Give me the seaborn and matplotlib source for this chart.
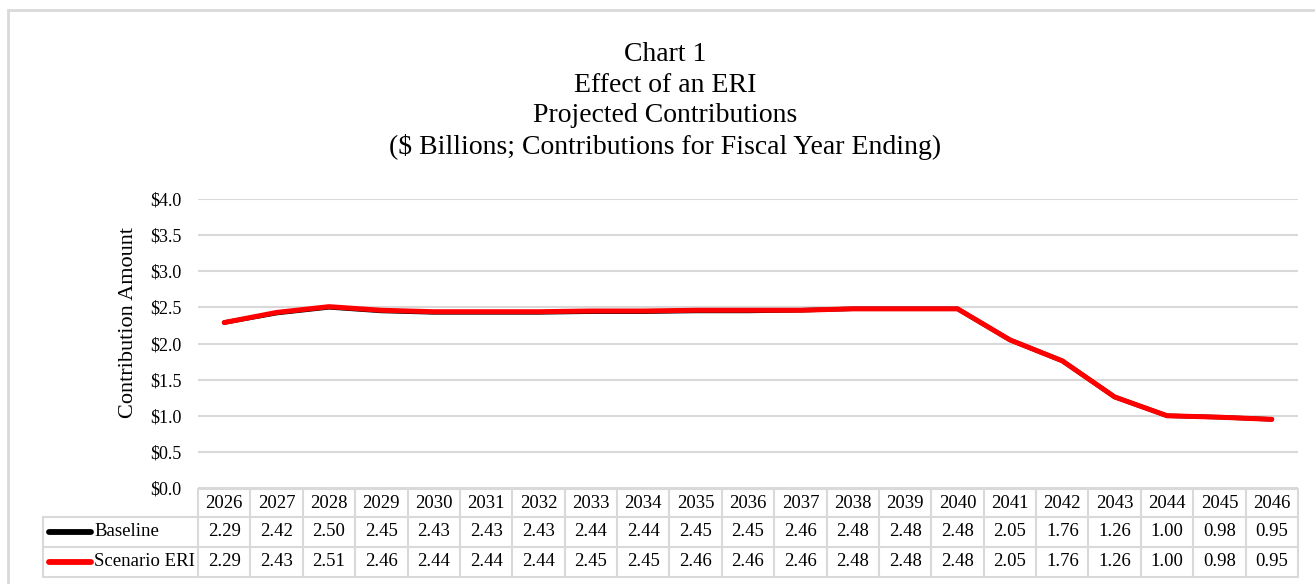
import matplotlib
matplotlib.use("Agg")
import matplotlib.pyplot as plt
import matplotlib.transforms as mtransforms
from matplotlib.lines import Line2D
from matplotlib.patches import Rectangle
import pandas as pd
import seaborn as sns

# ---- data -------------------------------------------------------------
years = [2026, 2027, 2028, 2029, 2030, 2031, 2032, 2033, 2034, 2035, 2036,
         2037, 2038, 2039, 2040, 2041, 2042, 2043, 2044, 2045, 2046]
baseline = [2.29, 2.42, 2.50, 2.45, 2.43, 2.43, 2.43, 2.44, 2.44, 2.45, 2.45,
            2.46, 2.48, 2.48, 2.48, 2.05, 1.76, 1.26, 1.00, 0.98, 0.95]
scenario = [2.29, 2.43, 2.51, 2.46, 2.44, 2.44, 2.44, 2.45, 2.45, 2.46, 2.46,
            2.46, 2.48, 2.48, 2.48, 2.05, 1.76, 1.26, 1.00, 0.98, 0.95]
series_names = ["Baseline", "Scenario ERI"]
series_colors = ["black", "red"]
y_ticks = [0.0, 0.5, 1.0, 1.5, 2.0, 2.5, 3.0, 3.5, 4.0]
title_lines = ["Chart 1", "Effect of an ERI", "Projected Contributions",
               "($ Billions; Contributions for Fiscal Year Ending)"]

W, H = 1315, 584
GRID = "#d9d9d9"

sns.set_theme(style="white")
plt.rcParams["font.family"] = ["Liberation Serif", "DejaVu Serif"]
plt.rcParams["text.color"] = "black"
plt.rcParams["axes.labelcolor"] = "black"

fig = plt.figure(figsize=(W / 100, H / 100), dpi=100)
ax = fig.add_axes([198 / W, (H - 488) / H, 1100 / W, (488 - 199) / H])

pos = list(range(len(years)))
df = pd.DataFrame({
    "pos": pos * 2,
    "value": baseline + scenario,
    "series": [series_names[0]] * len(pos) + [series_names[1]] * len(pos),
})

sns.lineplot(data=df[df.series == series_names[0]], x="pos", y="value",
             color=series_colors[0], linewidth=3.2, ax=ax, legend=False)
sns.lineplot(data=df[df.series == series_names[1]], x="pos", y="value",
             color=series_colors[1], linewidth=3.6, ax=ax, legend=False)

ax.set_xlim(-0.5, len(years) - 0.5)
ax.set_ylim(0, 4.0)
ax.set_yticks(y_ticks)
ax.set_yticklabels([f"${v:.1f}" for v in y_ticks], fontsize=13)
ax.set_xticks([])
ax.set_xlabel("")
ax.set_ylabel("Contribution Amount", fontsize=16)
ax.yaxis.set_label_coords(-0.0545, 0.571)
ax.tick_params(axis="y", length=0, pad=12, colors="black")
ax.grid(axis="y", color=GRID, linewidth=1.5)
ax.set_axisbelow(True)
for s in ax.spines.values():
    s.set_visible(False)

# ---- data table below the plot -----------------------------------------
def fy(ypx):
    return 1 - ypx / H

def fx(xpx):
    return xpx / W

col_tr = mtransforms.blended_transform_factory(ax.transData, fig.transFigure)
fig_tr = fig.transFigure

row_top, row_head, row_mid, row_bot = 489, 517, 547, 577
label_left = 43
n = len(years)

# horizontal rules across the year columns
for y in (row_top, row_head, row_mid, row_bot):
    ax.add_line(Line2D([-0.5, n - 0.5], [fy(y), fy(y)], transform=col_tr,
                       color=GRID, lw=1.5, clip_on=False))
# horizontal rules across the label column
for y in (row_head, row_mid, row_bot):
    ax.add_line(Line2D([fx(label_left), fx(198)], [fy(y), fy(y)], transform=fig_tr,
                       color=GRID, lw=1.5, clip_on=False))
# vertical rules
for k in range(n + 1):
    ax.add_line(Line2D([k - 0.5, k - 0.5], [fy(row_top), fy(row_bot)], transform=col_tr,
                       color=GRID, lw=1.5, clip_on=False))
ax.add_line(Line2D([fx(label_left)] * 2, [fy(row_head), fy(row_bot)], transform=fig_tr,
                   color=GRID, lw=1.5, clip_on=False))

rows = [baseline, scenario]
row_centers = [(row_head + row_mid) / 2, (row_mid + row_bot) / 2]
for i, yr in enumerate(years):
    ax.text(i, fy((row_top + row_head) / 2), str(yr), transform=col_tr,
            ha="center", va="center", fontsize=13.5)
    for vals, yc in zip(rows, row_centers):
        ax.text(i, fy(yc), f"{vals[i]:.2f}", transform=col_tr,
                ha="center", va="center", fontsize=13.5)

for name, color, yc in zip(series_names, series_colors, row_centers):
    ax.add_line(Line2D([fx(49), fx(91)], [fy(yc), fy(yc)], transform=fig_tr,
                       color=color, lw=4.2, solid_capstyle="round", clip_on=False))
    ax.text(fx(94), fy(yc), name, transform=fig_tr, ha="left", va="center",
            fontsize=13.5)

# ---- titles and frame ---------------------------------------------------
fig.text(fx(665), fy(101), "\n".join(title_lines), ha="center", va="center",
         fontsize=20, linespacing=1.3)

fig.patches.append(Rectangle((fx(8), fy(H + 20)), fx(W + 20), fy(10) - fy(H + 20),
                             transform=fig_tr, fill=False, edgecolor=GRID, lw=2))

fig.savefig("out.png", dpi=100)
